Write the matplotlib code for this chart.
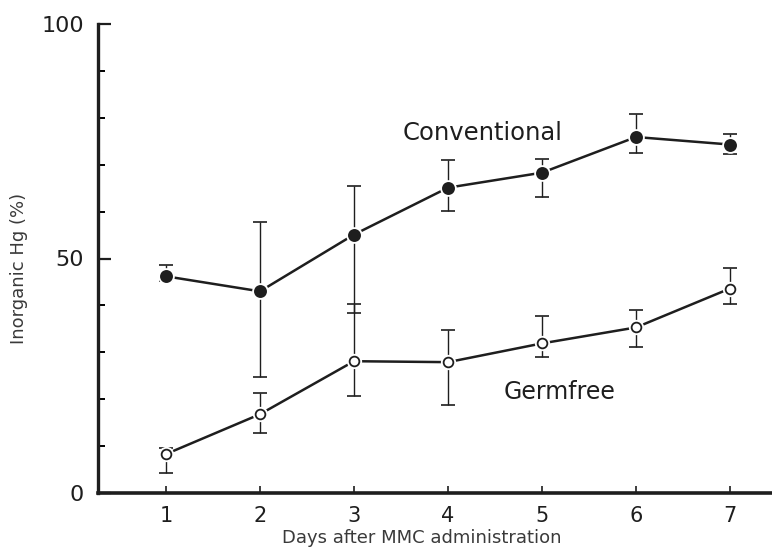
import matplotlib
matplotlib.use("Agg")
import matplotlib.pyplot as plt
from matplotlib.ticker import MultipleLocator

# data (mean, upper and lower error bar ends, %)
days = [1, 2, 3, 4, 5, 6, 7]

conv_mean  = [46.2, 43.0, 55.1, 65.1, 68.3, 75.9, 74.3]
conv_upper = [48.7, 57.7, 65.5, 71.1, 71.3, 80.9, 76.6]
conv_lower = [45.2, 24.7, 38.3, 60.2, 63.2, 72.6, 72.3]

germ_mean  = [8.3, 16.8, 28.1, 27.9, 31.9, 35.3, 43.6]
germ_upper = [9.6, 21.3, 40.2, 34.7, 37.7, 39.1, 47.9]
germ_lower = [4.3, 12.8, 20.6, 18.7, 29.1, 31.1, 40.4]

C_INK = "#1e1e1e"
C_LBL = "#3a3a3a"

fig = plt.figure(figsize=(7.72, 5.53), dpi=100)
ax = fig.add_axes([98 / 772, 60 / 553, 674 / 772, 469 / 553])


def draw_series(mean, upper, lower, face, ms):
    err = [[m - lo for m, lo in zip(mean, lower)],
           [up - m for m, up in zip(mean, upper)]]
    ax.errorbar(days, mean, yerr=err, fmt="none", ecolor=C_INK,
                elinewidth=1.0, capsize=5, capthick=1.2, zorder=2)
    ax.plot(days, mean, "-", color=C_INK, lw=1.8, zorder=3)
    # white halo gives the small gap between line and marker
    ax.plot(days, mean, "o", color="white", ms=ms + 4, mec="none", zorder=4)
    ax.plot(days, mean, "o", mfc=face, mec=C_INK, mew=1.3, ms=ms, zorder=5)


draw_series(conv_mean, conv_upper, conv_lower, C_INK, 8)
draw_series(germ_mean, germ_upper, germ_lower, "white", 7)

ax.text(3.52, 76.8, "Conventional", fontsize=17.5, color=C_INK,
        ha="left", va="center")
ax.text(4.59, 21.5, "Germfree", fontsize=17, color=C_INK,
        ha="left", va="center")

ax.set_xlim(1 - 68 / 94, 7 + 42 / 94)
ax.set_ylim(0, 100)

for side in ["top", "right"]:
    ax.spines[side].set_visible(False)
ax.spines["left"].set_linewidth(2.4)
ax.spines["bottom"].set_linewidth(2.6)
ax.spines["left"].set_color(C_INK)
ax.spines["bottom"].set_color(C_INK)

ax.set_xticks(days)
ax.set_yticks([0, 50, 100])
ax.yaxis.set_minor_locator(MultipleLocator(10))
ax.tick_params(axis="y", which="major", direction="in", length=9, width=1.6,
               labelsize=16, pad=10, colors=C_INK)
ax.tick_params(axis="y", which="minor", direction="in", length=5, width=1.4)
ax.tick_params(axis="x", which="major", direction="in", length=5, width=1.2,
               labelsize=15, pad=9, colors=C_INK)

ax.set_xlabel("Days after MMC administration", fontsize=13, color=C_LBL)
ax.set_ylabel("Inorganic Hg (%)", fontsize=13, color=C_LBL)
ax.xaxis.set_label_coords(0.481, -0.076)
ax.yaxis.set_label_coords(-0.104, 0.478)

fig.savefig("out.png", dpi=100, facecolor="white")
